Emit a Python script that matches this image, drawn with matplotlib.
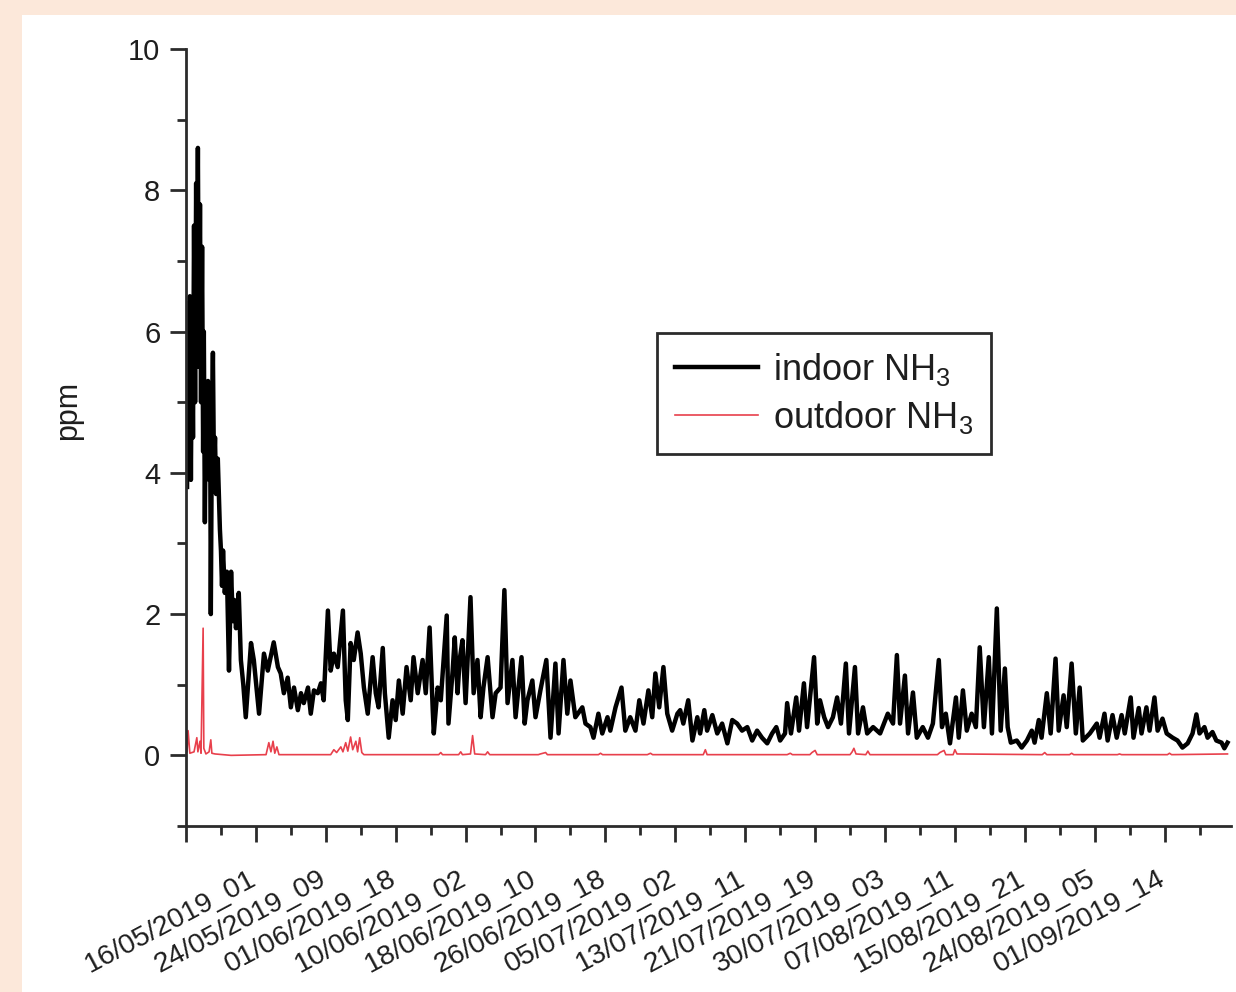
# 室内外 NH3 浓度时间序列
import matplotlib as mpl
import matplotlib.pyplot as plt
from matplotlib.ticker import MultipleLocator
from matplotlib.transforms import ScaledTranslation
from matplotlib.patches import Rectangle

# x 轴标签 (每 200 个小时样本一个)
tick_labels = ['16/05/2019_01', '24/05/2019_09', '01/06/2019_18', '10/06/2019_02',
               '18/06/2019_10', '26/06/2019_18', '05/07/2019_02', '13/07/2019_11',
               '21/07/2019_19', '30/07/2019_03', '07/08/2019_11', '15/08/2019_21',
               '24/08/2019_05', '01/09/2019_14']

# 室内 NH3 (样本序号, ppm)
indoor_hour = [
    3, 6, 9, 11, 14, 17, 20, 23, 26, 29,
    31, 34, 37, 40, 43, 46, 49, 51, 54, 57,
    60, 63, 66, 69, 71, 74, 77, 80, 83, 86,
    91, 97, 100, 103, 106, 111, 117, 123, 129, 134,
    138, 143, 151, 157, 164, 171, 186, 194, 209, 223,
    234, 251, 263, 271, 280, 291, 300, 309, 320, 329,
    337, 349, 357, 366, 377, 386, 394, 406, 414, 423,
    434, 449, 457, 463, 471, 480, 491, 500, 509, 520,
    534, 543, 551, 563, 569, 580, 591, 600, 609, 620,
    631, 643, 651, 663, 677, 686, 697, 706, 709, 720,
    729, 746, 751, 763, 769, 777, 783, 791, 800, 814,
    823, 834, 843, 851, 863, 877, 886, 900, 911, 920,
    934, 943, 960, 969, 977, 991, 1000, 1014, 1031, 1043,
    1057, 1066, 1080, 1091, 1100, 1114, 1134, 1143, 1157, 1166,
    1180, 1191, 1206, 1214, 1229, 1246, 1257, 1271, 1286, 1297,
    1309, 1323, 1334, 1343, 1354, 1366, 1377, 1391, 1406, 1414,
    1423, 1437, 1449, 1463, 1471, 1483, 1491, 1506, 1520, 1534,
    1549, 1563, 1577, 1591, 1606, 1620, 1634, 1648, 1663, 1677,
    1689, 1700, 1714, 1720, 1731, 1746, 1754, 1768, 1777, 1797,
    1806, 1814, 1826, 1837, 1851, 1863, 1874, 1888, 1897, 1914,
    1923, 1937, 1949, 1966, 1986, 2008, 2023, 2034, 2043, 2057,
    2066, 2080, 2091, 2108, 2123, 2137, 2154, 2163, 2174, 2186,
    2203, 2211, 2223, 2234, 2248, 2260, 2271, 2283, 2297, 2306,
    2320, 2331, 2343, 2351, 2360, 2377, 2391, 2406, 2420, 2428,
    2440, 2448, 2463, 2474, 2488, 2497, 2511, 2520, 2534, 2546,
    2557, 2566, 2586, 2606, 2614, 2628, 2637, 2651, 2663, 2677,
    2686, 2703, 2711, 2726, 2734, 2748, 2757, 2771, 2780, 2794,
    2806, 2823, 2837, 2851, 2866, 2880, 2891, 2900, 2914, 2923,
    2937, 2948, 2963, 2971, 2980,
]
indoor_ppm = [
    3.8, 6.4, 4.0, 6.5, 3.9, 6.2, 4.5, 7.5, 5.0, 8.1,
    6.0, 8.6, 5.5, 7.8, 5.0, 7.2, 4.3, 6.0, 3.3, 5.2,
    4.0, 5.3, 3.9, 5.0, 2.0, 4.6, 5.7, 4.0, 4.5, 3.7,
    4.2, 3.2, 2.9, 2.4, 2.9, 2.3, 2.6, 1.2, 2.6, 1.9,
    2.2, 1.8, 2.3, 1.35, 1.0, 0.54, 1.59, 1.35, 0.59, 1.44,
    1.2, 1.6, 1.25, 1.16, 0.88, 1.1, 0.68, 0.96, 0.64, 0.88,
    0.74, 0.96, 0.59, 0.92, 0.88, 1.02, 0.78, 2.05, 1.2, 1.44,
    1.25, 2.05, 0.78, 0.5, 1.59, 1.35, 1.74, 1.44, 0.96, 0.59,
    1.39, 0.88, 0.68, 1.52, 0.88, 0.25, 0.78, 0.5, 1.06, 0.59,
    1.25, 0.78, 1.39, 0.88, 1.35, 0.88, 1.81, 0.64, 0.31, 0.96,
    0.78, 1.98, 0.45, 1.2, 1.67, 0.88, 1.35, 1.63, 0.74, 2.24,
    0.88, 1.35, 0.54, 0.96, 1.39, 0.54, 0.88, 0.96, 2.34, 0.74,
    1.35, 0.54, 1.39, 0.45, 0.78, 1.06, 0.54, 0.92, 1.35, 0.25,
    1.3, 0.31, 1.35, 0.59, 1.06, 0.54, 0.68, 0.45, 0.4, 0.25,
    0.59, 0.31, 0.54, 0.35, 0.68, 0.96, 0.35, 0.54, 0.35, 0.78,
    0.45, 0.92, 0.54, 1.16, 0.68, 1.25, 0.59, 0.35, 0.59, 0.64,
    0.45, 0.78, 0.21, 0.54, 0.31, 0.64, 0.35, 0.57, 0.31, 0.45,
    0.17, 0.5, 0.45, 0.35, 0.4, 0.21, 0.35, 0.25, 0.17, 0.31,
    0.4, 0.21, 0.31, 0.74, 0.31, 0.82, 0.35, 1.02, 0.4, 1.39,
    0.45, 0.78, 0.54, 0.4, 0.54, 0.82, 0.45, 1.3, 0.31, 1.25,
    0.31, 0.68, 0.31, 0.4, 0.31, 0.59, 0.45, 1.42, 0.45, 1.13,
    0.31, 0.89, 0.25, 0.4, 0.25, 0.45, 1.35, 0.4, 0.59, 0.17,
    0.82, 0.25, 0.92, 0.35, 0.59, 0.4, 1.53, 0.4, 1.39, 0.31,
    2.08, 0.35, 1.23, 0.4, 0.18, 0.21, 0.11, 0.21, 0.35, 0.18,
    0.5, 0.25, 0.88, 0.31, 1.37, 0.35, 0.85, 0.4, 1.3, 0.31,
    0.96, 0.21, 0.31, 0.45, 0.25, 0.59, 0.21, 0.57, 0.25, 0.57,
    0.31, 0.82, 0.25, 0.67, 0.31, 0.68, 0.35, 0.82, 0.35, 0.52,
    0.31, 0.25, 0.21, 0.11, 0.17, 0.31, 0.58, 0.31, 0.4, 0.25,
    0.33, 0.21, 0.18, 0.1, 0.18,
]

# 室外 NH3 (样本序号, ppm)
outdoor_hour = [
    3, 6, 11, 23, 31, 34, 40, 43, 49, 51,
    57, 66, 71, 74, 83, 129, 229, 237, 243, 249,
    254, 260, 266, 414, 423, 431, 443, 449, 457, 463,
    471, 477, 486, 491, 497, 503, 509, 723, 729, 734,
    780, 786, 791, 814, 820, 826, 857, 863, 869, 1008,
    1014, 1029, 1034, 1180, 1186, 1192, 1320, 1329, 1335, 1480,
    1486, 1491, 1720, 1729, 1735, 1785, 1791, 1800, 1806, 1900,
    1906, 1911, 1917, 1945, 1951, 1957, 2150, 2157, 2169, 2174,
    2195, 2200, 2206, 2450, 2457, 2463, 2528, 2534, 2540, 2665,
    2671, 2677, 2808, 2814, 2820, 2980,
]
outdoor_ppm = [
    0.05, 0.35, 0.03, 0.05, 0.25, 0.05, 0.2, 0.03, 1.8, 0.1,
    0.02, 0.05, 0.22, 0.03, 0.02, 0.0, 0.01, 0.18, 0.05, 0.2,
    0.03, 0.12, 0.01, 0.01, 0.08, 0.04, 0.12, 0.05, 0.18, 0.06,
    0.26, 0.08, 0.2, 0.05, 0.25, 0.04, 0.01, 0.01, 0.04, 0.01,
    0.01, 0.05, 0.01, 0.02, 0.28, 0.02, 0.01, 0.05, 0.01, 0.01,
    0.02, 0.04, 0.01, 0.01, 0.03, 0.01, 0.01, 0.03, 0.01, 0.01,
    0.08, 0.01, 0.01, 0.03, 0.01, 0.01, 0.04, 0.07, 0.01, 0.01,
    0.05, 0.1, 0.02, 0.01, 0.06, 0.01, 0.01, 0.04, 0.07, 0.01,
    0.01, 0.08, 0.02, 0.01, 0.04, 0.01, 0.01, 0.03, 0.01, 0.01,
    0.02, 0.01, 0.01, 0.03, 0.01, 0.02,
]

mpl.rcParams['font.family'] = ['Liberation Sans', 'DejaVu Sans']
mpl.rcParams['mathtext.fontset'] = 'custom'
mpl.rcParams['mathtext.rm'] = 'Liberation Sans'

W, H = 1236, 992
fig = plt.figure(figsize=(W / 100, H / 100), dpi=100, facecolor='#fce8da')
# 白色底板
fig.patches.append(Rectangle((22 / W, 0), 1 - 22 / W, 1 - 15 / H, transform=fig.transFigure,
                             facecolor='white', edgecolor='none', zorder=-10))

ax = fig.add_axes([186 / W, 1 - 826 / H, (1231 - 186) / W, (826 - 49) / H])
ax.set_facecolor('none')

ax.plot(indoor_hour, indoor_ppm, color='black', lw=3.2, label='indoor NH$_\\mathregular{3}$')
ax.plot(outdoor_hour, outdoor_ppm, color='#e8404c', lw=1.2, label='outdoor NH$_\\mathregular{3}$')

ax.set_xlim(0, 2990)
ax.set_ylim(-1, 10)

axis_color = '#2b2b2b'
text_color = '#1e1e1e'
for side in ['top', 'right']:
    ax.spines[side].set_visible(False)
for side in ['left', 'bottom']:
    ax.spines[side].set_linewidth(2.0)
    ax.spines[side].set_color(axis_color)

ax.set_yticks([0, 2, 4, 6, 8, 10])
ax.yaxis.set_minor_locator(MultipleLocator(1))
ax.set_xticks(range(0, 2801, 200), tick_labels + [''])
ax.xaxis.set_minor_locator(MultipleLocator(100))

ax.tick_params(which='major', length=11.5, width=2.0, color=axis_color, labelcolor=text_color,
               labelsize=21, direction='out')
ax.tick_params(which='minor', length=6.5, width=2.0, color=axis_color, direction='out')
ax.tick_params(axis='y', pad=7)
ax.tick_params(axis='x', labelsize=20.5, pad=17)

offset = ScaledTranslation(-0.15, 0, fig.dpi_scale_trans)
for lab in ax.get_xticklabels():
    lab.set_rotation(28)
    lab.set_ha('center')
    lab.set_transform(lab.get_transform() + offset)

fig.text(68 / W, 1 - 410 / H, 'ppm', rotation=90, ha='center', va='center',
         fontsize=22, color=text_color)

leg = ax.legend(loc='upper left', bbox_to_anchor=(657 / W, 1 - 333 / H),
                bbox_transform=fig.transFigure, borderaxespad=0, fontsize=26,
                frameon=True, fancybox=False, framealpha=1, edgecolor=axis_color,
                handlelength=2.3, handletextpad=0.4, borderpad=0.5, labelspacing=0.3)
leg.get_frame().set_linewidth(2.0)
for t in leg.get_texts():
    t.set_color(text_color)

fig.savefig('out.png', dpi=100, facecolor=fig.get_facecolor())
